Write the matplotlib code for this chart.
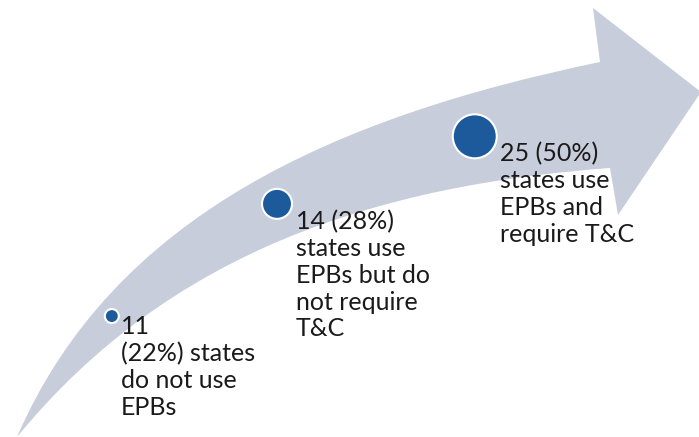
import numpy as np
import matplotlib
matplotlib.use('Agg')
from matplotlib import pyplot as plt
from matplotlib.path import Path
from matplotlib.patches import PathPatch, Circle

# Dados do gráfico
contagens = [11, 14, 25]
percentuais = [22, 28, 50]
rotulos = ["{n}\n({p}%) states\ndo not use\nEPBs",
           "{n} ({p}%)\nstates use\nEPBs but do\nnot require\nT&C",
           "{n} ({p}%)\nstates use\nEPBs and\nrequire T&C"]

# Layout (posição ao longo da seta, raio do círculo e deslocamento do texto, em pixels)
t_pos = [0.22, 0.52, 0.82]
raios = [7, 15, 22]
desloc_txt = [(2, -1), (4, 6), (3, 6)]

cor_seta = '#c8cddb'
cor_circulo = '#1c5a9c'

fig = plt.figure(figsize=(6.99, 4.37), dpi=100)
ax = fig.add_axes([0, 0, 1, 1])
ax.set_xlim(0, 699)
ax.set_ylim(437, 0)
ax.axis('off')

# Contorno da seta curva
cauda = (17, 437)
sup = [(113, 215), (335, 117), (600, 62)]   # borda superior (bezier cúbica)
inf = [(170, 250), (380, 185), (610, 168)]   # borda inferior
cabeca = [(593, 8), (701, 92), (618, 215)]

verts = [cauda] + sup + cabeca + [inf[2], inf[1], inf[0], cauda, cauda]
codes = ([Path.MOVETO] + [Path.CURVE4] * 3 + [Path.LINETO] * 4 +
         [Path.CURVE4] * 3 + [Path.CLOSEPOLY])
ax.add_patch(PathPatch(Path(verts, codes), facecolor=cor_seta, edgecolor='none'))

# Linha central da seta para posicionar os círculos
c0 = np.array(cauda, float)
c1 = (np.array(sup[0]) + np.array(inf[0])) / 2
c2 = (np.array(sup[1]) + np.array(inf[1])) / 2
c3 = (np.array(sup[2]) + np.array(inf[2])) / 2

def centro(t):
    return ((1 - t) ** 3 * c0 + 3 * (1 - t) ** 2 * t * c1 +
            3 * (1 - t) * t ** 2 * c2 + t ** 3 * c3 + np.array([0, -3]))

for n, p, rot, t, r, (dx, dy) in zip(contagens, percentuais, rotulos, t_pos,
                                      raios, desloc_txt):
    cx, cy = centro(t)
    ax.add_patch(Circle((cx, cy), r, facecolor=cor_circulo,
                        edgecolor='white', linewidth=1.5, zorder=3))
    ax.text(cx + r + dx, cy + dy, rot.format(n=n, p=p), ha='left', va='top',
            fontsize=18, family='Lato', color='#1a1a1a', linespacing=1.2,
            zorder=4)

fig.savefig('out.png', dpi=100)
